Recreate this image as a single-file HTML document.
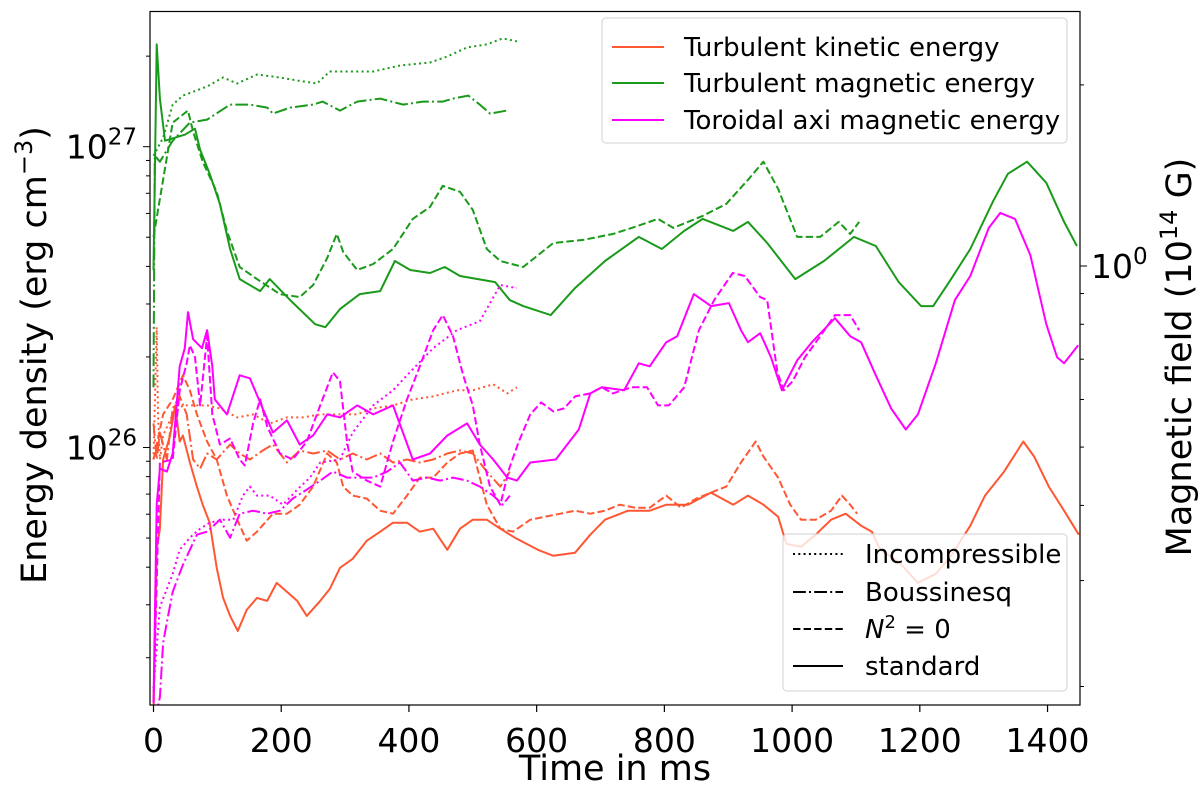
<!DOCTYPE html>
<html><head><meta charset="utf-8"><style>
html,body{margin:0;padding:0;background:#fff;}
svg{display:block;font-family:"DejaVu Sans","Liberation Sans",sans-serif;}
</style></head><body>
<svg id="chart" width="1200" height="785" viewBox="0 0 1200 785" xmlns="http://www.w3.org/2000/svg">
<defs><clipPath id="plotclip"><rect x="150" y="11.5" width="930" height="693.5"/></clipPath></defs>
<rect x="0" y="0" width="1200" height="785" fill="#fff"/>
<g id="series" clip-path="url(#plotclip)"></g>
<g id="axes"></g>
<g id="legends"></g>
</svg>
<script>
// ---- data (time in ms, log10 energy density in erg cm^-3) ----
const gsT=[0,5,10,18,49,65,73,88,104,120,135,167,182,214,253,269,292,323,355,378,402,433,456,480,535,558,579,622,660,707,760,796,831,860,908,931,961,1005,1050,1097,1131,1167,1202,1221,1249,1279,1315,1338,1368,1398,1426,1446];
const gsV=[26.59,27.34,27.16,27.02,27.04,27.06,26.99,26.91,26.81,26.66,26.56,26.52,26.56,26.49,26.41,26.40,26.46,26.51,26.52,26.62,26.59,26.58,26.60,26.57,26.55,26.49,26.47,26.44,26.53,26.62,26.70,26.66,26.72,26.76,26.72,26.75,26.68,26.56,26.62,26.70,26.67,26.55,26.47,26.47,26.56,26.66,26.82,26.91,26.95,26.88,26.75,26.67];
const gdT=[0,30,54,62,77,99,115,135,162,198,229,250,272,287,297,319,344,375,406,433,453,480,500,522,543,579,626,673,720,749,790,814,860,897,931,955,978,1008,1044,1073,1091,1105];
const gdV=[26.70,27.08,27.12,27.05,26.95,26.85,26.72,26.60,26.56,26.51,26.50,26.54,26.63,26.71,26.65,26.59,26.61,26.66,26.76,26.80,26.87,26.85,26.79,26.66,26.62,26.60,26.68,26.69,26.71,26.73,26.76,26.73,26.77,26.81,26.89,26.95,26.86,26.70,26.70,26.75,26.71,26.75];
const gpT=[0,15,30,46,84,109,131,162,198,225,256,276,312,344,386,433,460,491,522,547,569];
const gpV=[26.97,27.03,27.14,27.17,27.20,27.23,27.21,27.24,27.23,27.22,27.21,27.25,27.25,27.25,27.27,27.28,27.30,27.33,27.34,27.36,27.35];
const gbT=[0,2,10,30,57,84,120,151,178,187,214,250,265,292,319,355,391,422,453,469,493,511,527,553];
const gbV=[26.20,26.97,26.95,27.02,27.08,27.09,27.14,27.14,27.13,27.11,27.13,27.14,27.15,27.12,27.15,27.16,27.14,27.15,27.15,27.16,27.17,27.14,27.11,27.12];

const msT=[0,5,10,21,30,41,49,54,62,76,84,92,96,115,135,151,167,187,209,229,250,272,292,319,344,375,406,433,460,491,511,532,554,569,590,630,666,684,702,737,760,777,803,820,846,873,901,920,931,950,967,984,1008,1031,1067,1091,1108,1131,1155,1178,1197,1225,1255,1279,1308,1326,1349,1373,1398,1415,1426,1448];
const msV=[25.15,25.81,25.93,25.92,25.98,26.27,26.33,26.45,26.36,26.33,26.39,26.27,26.16,26.11,26.24,26.23,26.15,26.05,26.09,26.01,26.04,26.11,26.10,26.14,26.11,26.14,25.96,25.98,26.04,26.08,26.01,25.96,25.90,25.89,25.95,25.96,26.06,26.18,26.20,26.19,26.28,26.27,26.35,26.37,26.51,26.47,26.48,26.39,26.35,26.38,26.30,26.19,26.29,26.35,26.43,26.37,26.35,26.24,26.13,26.06,26.11,26.28,26.49,26.57,26.73,26.78,26.76,26.64,26.41,26.30,26.28,26.34];
const mdT=[0,10,30,41,52,57,65,73,84,92,104,120,135,143,156,167,178,198,218,240,261,281,292,303,312,334,355,375,397,417,438,453,469,485,500,511,527,543,557,572,590,607,626,643,660,684,702,719,749,773,790,807,831,854,878,907,926,950,961,977,987,1001,1020,1044,1067,1091,1105];
const mdV=[25.15,25.95,25.96,26.19,26.28,26.34,26.30,26.14,26.37,26.11,26.01,26.03,25.96,25.94,26.08,26.16,26.07,25.98,25.96,26.02,26.14,26.25,26.22,26.02,25.92,25.89,25.87,26.02,26.16,26.27,26.39,26.44,26.37,26.24,26.14,26.01,25.87,25.81,25.93,26.02,26.11,26.15,26.12,26.13,26.17,26.18,26.20,26.18,26.20,26.20,26.14,26.14,26.20,26.39,26.49,26.58,26.57,26.50,26.49,26.25,26.19,26.22,26.30,26.37,26.44,26.44,26.39];
const mpT=[0,10,21,30,41,57,73,88,109,125,140,151,162,182,203,225,245,261,292,312,344,375,397,438,475,511,543,569];
const mpV=[25.20,25.47,25.53,25.58,25.66,25.70,25.73,25.75,25.76,25.76,25.84,25.87,25.84,25.84,25.81,25.86,25.90,25.95,25.96,26.05,26.14,26.19,26.24,26.33,26.39,26.42,26.54,26.53];
const mbT=[2,10,15,21,30,46,68,84,104,120,135,156,178,198,218,240,261,281,303,323,344,366,386,406,428,449,469,491,511,532,547,558];
const mbV=[25.09,25.17,25.35,25.42,25.52,25.61,25.71,25.72,25.76,25.70,25.78,25.79,25.78,25.79,25.83,25.86,25.89,25.92,25.90,25.90,25.90,25.92,25.95,25.89,25.90,25.89,25.90,25.89,25.87,25.84,25.81,25.84];

const osT=[0,5,10,15,26,34,41,46,57,68,77,88,99,109,120,132,146,162,178,193,209,225,240,261,276,292,312,334,355,375,397,417,438,460,480,500,522,543,566,602,626,660,684,707,743,777,803,837,873,908,931,955,978,991,1014,1037,1061,1084,1108,1125,1138,1167,1197,1225,1249,1279,1302,1332,1362,1379,1402,1426,1449];
const osV=[25.11,25.66,25.73,25.96,26.04,26.14,26.02,26.04,25.95,25.87,25.81,25.75,25.60,25.50,25.44,25.39,25.46,25.50,25.49,25.55,25.52,25.49,25.44,25.49,25.53,25.60,25.63,25.69,25.72,25.75,25.75,25.72,25.73,25.66,25.73,25.76,25.76,25.73,25.70,25.66,25.64,25.65,25.71,25.76,25.79,25.79,25.81,25.81,25.85,25.81,25.84,25.81,25.77,25.68,25.67,25.71,25.76,25.78,25.74,25.72,25.66,25.62,25.55,25.58,25.64,25.74,25.84,25.92,26.02,25.97,25.87,25.79,25.71];
const odT=[0,15,30,46,57,68,84,99,115,131,146,162,187,209,229,250,272,287,297,312,334,355,375,397,417,438,460,480,500,522,543,563,590,613,637,660,684,707,730,754,777,803,826,850,873,897,920,943,955,978,997,1014,1037,1061,1078,1091,1102];
const odV=[25.96,26.11,26.16,26.24,26.19,26.11,26.02,25.96,25.84,25.76,25.69,25.72,25.78,25.78,25.81,25.87,25.98,25.95,25.87,25.84,25.83,25.79,25.78,25.84,25.90,25.90,25.95,25.98,25.99,25.81,25.73,25.72,25.76,25.77,25.78,25.79,25.78,25.79,25.81,25.80,25.80,25.84,25.80,25.83,25.85,25.87,25.95,26.02,25.97,25.90,25.81,25.76,25.76,25.79,25.84,25.81,25.78];
const opT=[0,5,7,10,15,30,46,62,84,104,131,156,182,209,234,261,292,319,344,375,406,438,475,500,532,554,569];
const opV=[25.96,26.40,26.11,25.96,26.04,26.11,26.14,26.14,26.14,26.13,26.10,26.11,26.08,26.10,26.10,26.11,26.11,26.11,26.13,26.14,26.16,26.17,26.19,26.19,26.21,26.18,26.20];
const obT=[0,5,10,21,30,41,52,62,73,84,99,120,135,151,171,187,209,229,250,272,292,312,334,355,375,397,417,438,460,480,500,522,543,558];
const obV=[26.08,25.96,26.05,25.96,26.13,26.17,26.11,25.96,25.93,25.98,25.96,26.01,25.98,25.96,25.99,26.01,25.95,25.99,25.98,25.99,25.96,25.98,25.96,25.98,25.95,25.96,25.95,25.96,25.98,25.99,25.98,25.92,25.87,25.92];

const xTicks=[0,200,400,600,800,1000,1200,1400];
const yMajor=[26,27];
const rightMajor=[0];

// ---- axis functions ----
const X0=153.5, XS=0.6386, Y26=447.5, YD=300.8;
function xs(t){return X0+t*XS;}
function ys(v){return Y26-(v-26)*YD;}
function yB(logB){return 266-logB*2*YD;}

const NS="http://www.w3.org/2000/svg";
function mk(tag,attrs,parent){const e=document.createElementNS(NS,tag);for(const k in attrs)e.setAttribute(k,attrs[k]);parent.appendChild(e);return e;}

const OR="#ff5733", GR="#1a9a1a", MG="#ff00ff";
const DASH={solid:"",dashed:"7.4,3.2",dotted:"2,3.3",dashdot:"12.8,3.2,2,3.2"};
const series=document.getElementById('series');
function line(T,V,color,style,name){
  let d="";
  for(let i=0;i<T.length;i++){d+=(i?"L":"M")+xs(T[i]).toFixed(1)+","+ys(V[i]).toFixed(1);}
  const p=mk('path',{d:d,fill:"none",stroke:color,"stroke-width":2,"stroke-linejoin":"round","stroke-dasharray":DASH[style]},series);
  
  
}
line(gpT,gpV,GR,"dotted","green-incompressible-line");
line(gbT,gbV,GR,"dashdot","green-boussinesq-line");
line(gdT,gdV,GR,"dashed","green-n2zero-line");
line(gsT,gsV,GR,"solid","green-standard-line");
line(opT,opV,OR,"dotted","orange-incompressible-line");
line(obT,obV,OR,"dashdot","orange-boussinesq-line");
line(odT,odV,OR,"dashed","orange-n2zero-line");
line(osT,osV,OR,"solid","orange-standard-line");
line(mpT,mpV,MG,"dotted","magenta-incompressible-line");
line(mbT,mbV,MG,"dashdot","magenta-boussinesq-line");
line(mdT,mdV,MG,"dashed","magenta-n2zero-line");
line(msT,msV,MG,"solid","magenta-standard-line");

// ---- axes ----
const ax=document.getElementById('axes');
const frame=mk('rect',{x:150,y:11.5,width:930,height:693.5,fill:"none",stroke:"#000","stroke-width":1.2},ax);


xTicks.forEach(t=>{
  const x=xs(t);
  const tk=mk('line',{x1:x,x2:x,y1:705,y2:712,stroke:"#000","stroke-width":1.2},ax);
  
  
  const lb=mk('text',{x:x,y:752,"text-anchor":"middle","font-size":33,fill:"#000"},ax);
  lb.textContent=t;
  
  
});
for(let dec=25;dec<=27;dec++){
  for(let m=1;m<10;m++){
    const v=dec+Math.log10(m);
    const y=ys(v);
    if(y<11||y>705.5)continue;
    const tk=mk('line',{x1:150,x2:m===1?143:146,y1:y,y2:y,stroke:"#000","stroke-width":1},ax);
    
    
  }
}
yMajor.forEach(v=>{
  const t=mk('text',{x:137,y:ys(v)+12,"text-anchor":"end","font-size":33,fill:"#000"},ax);
  t.innerHTML='10<tspan dy="-14" font-size="23">'+v+'</tspan>';
  
  
});
for(let dec=-1;dec<=0;dec++){
  for(let m=1;m<10;m++){
    const lb=dec+Math.log10(m);
    const y=yB(lb);
    if(y<11||y>705.5)continue;
    const tk=mk('line',{x1:1080,x2:m===1?1087:1084,y1:y,y2:y,stroke:"#000","stroke-width":1},ax);
    
    
  }
}
rightMajor.forEach(v=>{
  const t=mk('text',{x:1091,y:yB(v)+12,"font-size":33,fill:"#000"},ax);
  t.innerHTML='10<tspan dy="-14" font-size="23">'+v+'</tspan>';
  
  
});
const xl=mk('text',{x:615,y:780,"text-anchor":"middle","font-size":35,fill:"#000"},ax);
xl.textContent="Time in ms";


const yl=mk('text',{x:0,y:0,"text-anchor":"middle","font-size":35,fill:"#000",transform:"translate(46,355) rotate(-90)"},ax);
yl.innerHTML='Energy density (erg cm<tspan dy="-14" font-size="24">−3</tspan><tspan dy="14">)</tspan>';


const rl=mk('text',{x:0,y:0,"text-anchor":"middle","font-size":35,fill:"#000",transform:"translate(1191,357) rotate(-90)"},ax);
rl.innerHTML='Magnetic field (10<tspan dy="-14" font-size="24">14</tspan><tspan dy="14"> G)</tspan>';



// ---- legends ----
const lg=document.getElementById('legends');
const l1=mk('g',{},lg);


mk('rect',{x:602,y:18,width:465,height:125,rx:4,fill:"#fff","fill-opacity":0.8,stroke:"#d0d0d0"},l1);
const legC=[["Turbulent kinetic energy",OR,47],["Turbulent magnetic energy",GR,83],["Toroidal axi magnetic energy",MG,120]];
legC.forEach(e=>{
  const g=mk('g',{},l1);
  
  
  mk('line',{x1:612,x2:664,y1:e[2],y2:e[2],stroke:e[1],"stroke-width":2},g);
  const t=mk('text',{x:684,y:e[2]+9,"font-size":26,fill:"#000"},g);
  t.textContent=e[0];
});
const l2=mk('g',{},lg);


mk('rect',{x:783,y:534,width:284,height:157,rx:4,fill:"#fff","fill-opacity":0.8,stroke:"#d0d0d0"},l2);
const legS=[["Incompressible","dotted",554],["Boussinesq","dashdot",592],["N2","dashed",629],["standard","solid",666]];
legS.forEach(e=>{
  const g=mk('g',{},l2);
  
  
  mk('line',{x1:793,x2:843,y1:e[2],y2:e[2],stroke:"#000","stroke-width":2,"stroke-dasharray":DASH[e[1]]},g);
  const t=mk('text',{x:865,y:e[2]+9,"font-size":26,fill:"#000"},g);
  if(e[0]==="N2"){t.innerHTML='<tspan font-style="italic">N</tspan><tspan dy="-10" font-size="18">2</tspan><tspan dy="10"> = 0</tspan>';}
  else t.textContent=e[0];
});
</script>
</body></html>
